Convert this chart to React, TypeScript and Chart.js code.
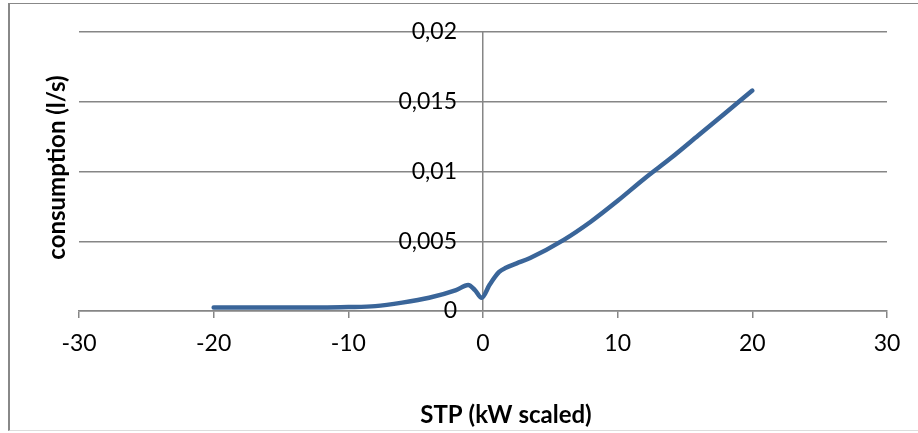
import React, { useEffect, useRef } from 'react';
import { Chart, registerables } from 'chart.js';

Chart.register(...registerables);

// ---- data ----
const xValues = [-20, -18, -16, -14, -12, -10, -8, -6, -4, -2, -1.1, -0.6, -0.1, 0.5, 1.2, 1.7, 2.5, 3.5, 6, 8, 10, 12, 14, 16, 18, 20];
const yValues = [0.00025, 0.00025, 0.00025, 0.00025, 0.00025, 0.00028, 0.00035, 0.0006, 0.00095, 0.0015, 0.00186, 0.0015, 0.00095, 0.0019, 0.0028, 0.0031, 0.00342, 0.0038, 0.0051, 0.0064, 0.0079, 0.0095, 0.011, 0.0126, 0.0142, 0.0158];
const xTickLabels = ['-30', '-20', '-10', '0', '10', '20', '30'];
const yTickLabels = ['0', '0,005', '0,01', '0,015', '0,02'];
const xAxisTitle = 'STP (kW scaled)';
const yAxisTitle = 'consumption (l/s)';
const seriesName = 'consumption';

const X_MIN = -30;
const X_MAX = 30;
const PLOT_WIDTH_PX = 808; // 918 - 79 - 31
const LABEL_GAP_PX = 26;

const GRID = '#868686';
const LINE = '#3A6599';
const FONT = 'Lato';

const axisTitles = {
  id: 'axisTitles',
  afterDraw(chart: any) {
    const ctx = chart.ctx;
    const a = chart.chartArea;
    ctx.save();
    ctx.fillStyle = '#000';
    ctx.font = `bold 24px ${FONT}`;
    ctx.textAlign = 'center';
    ctx.textBaseline = 'middle';
    ctx.fillText(xAxisTitle, (a.left + a.right) / 2 + 23, 415);
    ctx.translate(57, (a.top + a.bottom) / 2 - 4);
    ctx.rotate(-Math.PI / 2);
    ctx.fillText(yAxisTitle, 0, 0);
    ctx.restore();
  },
};

export default function App() {
  const ref = useRef<HTMLCanvasElement | null>(null);

  useEffect(() => {
    if (!ref.current) return;
    const points = xValues.map((x, i) => ({ x, y: yValues[i] }));
    const labelAnchor = -LABEL_GAP_PX * ((X_MAX - X_MIN) / PLOT_WIDTH_PX);
    const chart = new Chart(ref.current, {
      type: 'scatter',
      data: {
        datasets: [
          {
            label: seriesName,
            data: points,
            showLine: true,
            borderColor: LINE,
            backgroundColor: LINE,
            borderWidth: 4.5,
            pointRadius: 0,
            cubicInterpolationMode: 'monotone',
            borderCapStyle: 'round',
            borderJoinStyle: 'round',
          } as any,
        ],
      },
      options: {
        animation: false,
        responsive: false,
        devicePixelRatio: 1,
        layout: { padding: { left: 79, right: 31, top: 32, bottom: 62 } },
        plugins: { legend: { display: false }, tooltip: { enabled: false } },
        scales: {
          x: {
            type: 'linear',
            min: X_MIN,
            max: X_MAX,
            ticks: {
              stepSize: 10,
              padding: 12,
              color: '#000',
              font: { family: FONT, size: 23 },
              callback: (_v: any, i: number) => xTickLabels[i],
            },
            grid: {
              display: true,
              drawOnChartArea: true,
              drawTicks: true,
              tickLength: 7,
              color: (c: any) => (c.tick && c.tick.value === 0 ? GRID : 'rgba(0,0,0,0)'),
              tickColor: GRID,
              lineWidth: 1.5,
            },
            border: { display: true, color: GRID, width: 1.5 },
            afterFit: (s: any) => {
              s.height = 60;
            },
          },
          y: {
            type: 'linear',
            position: { x: labelAnchor } as any,
            min: 0,
            max: 0.02,
            ticks: {
              stepSize: 0.005,
              padding: 0,
              color: '#000',
              font: { family: FONT, size: 23 },
              callback: (_v: any, i: number) => yTickLabels[i],
            },
            grid: { drawTicks: false, color: GRID, lineWidth: 1.5 },
            border: { display: false },
          },
        },
      },
      plugins: [axisTitles],
    });
    return () => chart.destroy();
  }, []);

  return (
    <div style={{ position: 'fixed', left: 0, top: 0, width: 918, height: 433, background: '#fff' }}>
      <div
        style={{
          position: 'absolute',
          left: 8,
          top: 3,
          width: 910,
          height: 428,
          borderLeft: '2px solid #888',
          borderTop: '1px solid #888',
          borderBottom: '1px solid #ddd',
          boxSizing: 'border-box',
        }}
      />
      <canvas ref={ref} width={918} height={433} style={{ position: 'absolute', left: 0, top: 0 }} />
    </div>
  );
}
